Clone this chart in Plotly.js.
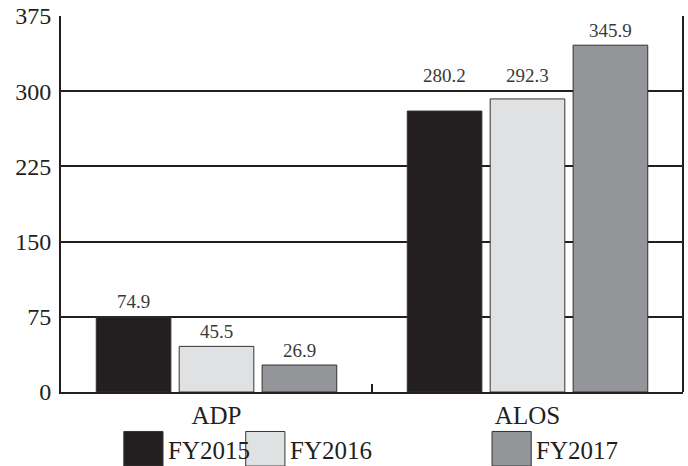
<!DOCTYPE html>
<html>
<head>
<meta charset="utf-8">
<script src="https://cdn.plot.ly/plotly-3.0.1.min.js"></script>
<style>html,body{margin:0;padding:0;background:#fff;}</style>
</head>
<body>
<div id="chart" style="width:688px;height:466px;"></div>
<script>
const categories = ["ADP", "ALOS"];
const seriesNames = ["FY2015", "FY2016", "FY2017"];
const fy2015 = [74.9, 280.2];
const fy2016 = [45.5, 292.3];
const fy2017 = [26.9, 345.9];
const yTicks = [0, 75, 150, 225, 300, 375];

const colors = ["#231f20", "#e0e1e3", "#939598"];
const values = [fy2015, fy2016, fy2017];
const FONT = "Liberation Serif, Times New Roman, serif";
const BARGAP = 0.2;

const traces = values.map((v, i) => ({
  type: "bar",
  name: seriesNames[i],
  x: categories,
  y: v,
  marker: {color: colors[i], line: {color: "#333", width: 1}},
  showlegend: false,
  hoverinfo: "skip"
}));

const shapes = [];
const annotations = [];

// value labels above bars; lifted above a gridline if they would sit on it
const slot = (1 - BARGAP) / values.length;
const LABEL_SPAN = 26; // label height in axis units (about 1px per unit)
values.forEach((v, i) => {
  v.forEach((d, j) => {
    const hit = yTicks.find(t => t > 0 && t < 375 && t >= d && t < d + LABEL_SPAN);
    annotations.push({
      xref: "x", yref: "y",
      x: j + (i - (values.length - 1) / 2) * slot,
      y: hit !== undefined ? hit : d,
      yshift: hit !== undefined ? 3 : 2,
      xanchor: "center", yanchor: "bottom", showarrow: false,
      text: d.toFixed(1),
      font: {family: FONT, size: 19, color: "#3a3a3a"}
    });
  });
});

// custom legend (large swatches)
const legendPos = [
  {sx0: 0.101, text: "FY2015"},
  {sx0: 0.297, text: "FY2016"},
  {sx0: 0.693, text: "FY2017"}
];
legendPos.forEach((p, i) => {
  shapes.push({
    type: "rect", xref: "paper", yref: "paper",
    x0: p.sx0, x1: p.sx0 + 0.063, y0: -0.197, y1: -0.105,
    fillcolor: colors[i], line: {color: "#333", width: 1}
  });
  annotations.push({
    xref: "paper", yref: "paper", x: p.sx0 + 0.068, y: -0.155,
    xanchor: "left", yanchor: "middle", showarrow: false,
    text: p.text, font: {family: FONT, size: 25, color: "#231f20"}
  });
});

const layout = {
  width: 688, height: 466,
  margin: {l: 61, r: 5, t: 16, b: 74},
  paper_bgcolor: "#fff", plot_bgcolor: "#fff",
  barmode: "group",
  bargap: BARGAP,
  bargroupgap: 0.1,
  font: {family: FONT, color: "#231f20"},
  xaxis: {
    type: "category",
    showgrid: false,
    showline: true, linecolor: "#231f20", linewidth: 2,
    mirror: false,
    ticks: "inside", tickson: "boundaries", ticklen: 8, tickwidth: 2, tickcolor: "#231f20",
    tickfont: {family: FONT, size: 25, color: "#231f20"},
    zeroline: false
  },
  yaxis: {
    range: [0, 375],
    tickvals: yTicks,
    ticktext: yTicks.map(String),
    showgrid: true, gridcolor: "#231f20", gridwidth: 2,
    showline: true, linecolor: "#231f20", linewidth: 2,
    ticks: "", ticklabelstandoff: 3,
    tickfont: {family: FONT, size: 24, color: "#231f20"},
    zeroline: false
  },
  shapes: shapes.concat([
    {type: "line", xref: "paper", yref: "paper", x0: 1, x1: 1, y0: 0, y1: 1, line: {color: "#231f20", width: 2}}
  ]),
  annotations: annotations
};

Plotly.newPlot("chart", traces, layout, {displayModeBar: false, staticPlot: true});
</script>
</body>
</html>
